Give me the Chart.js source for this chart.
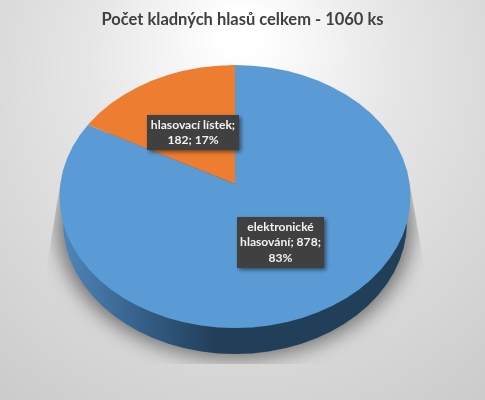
<!DOCTYPE html>
<html>
<head>
<meta charset="utf-8">
<title>Počet kladných hlasů celkem</title>
<script src="https://cdn.jsdelivr.net/npm/chart.js@4"></script>
<style>
  html, body { margin: 0; padding: 0; background: #ddd; }
  canvas { display: block; }
</style>
</head>
<body>
<canvas id="chart" width="485" height="400"></canvas>
<script>
const titleText = 'Počet kladných hlasů celkem - 1060 ks';
const categories = ['elektronické hlasování', 'hlasovací lístek'];
const votes = [878, 182];
const percents = [83, 17];
const sliceColors = ['#5b9bd5', '#ed7d31'];

// top face outline and the point where the slices meet (perspective moves it up)
const face = { x: 235, y: 196.5, rx: 175.5, ry: 131.5, apexY: 184 };
const labelBoxes = [
  { x: 237, y: 217, w: 87, h: 51 },
  { x: 147, y: 115, w: 92, h: 35 }
];

function wrap(ctx, text, maxWidth) {
  const lines = [];
  let line = '';
  text.split(' ').forEach(word => {
    const next = line ? line + ' ' + word : word;
    if (line && ctx.measureText(next).width > maxWidth) {
      lines.push(line);
      line = word;
    } else {
      line = next;
    }
  });
  lines.push(line);
  return lines;
}

const pie3d = {
  id: 'pie3d',
  beforeDraw(chart) {
    const ctx = chart.ctx;
    const bg = ctx.createRadialGradient(242, 30, 20, 242, 120, 400);
    bg.addColorStop(0, '#ffffff');
    bg.addColorStop(0.35, '#e6e6e6');
    bg.addColorStop(1, '#c8c8c8');
    ctx.fillStyle = bg;
    ctx.fillRect(0, 0, chart.width, chart.height);
  },
  beforeDatasetsDraw(chart) {
    const ctx = chart.ctx;

    // soft shadow below the pie, the ellipse itself stays off canvas
    ctx.save();
    ctx.beginPath();
    ctx.moveTo(60, 185);
    ctx.lineTo(410, 185);
    ctx.lineTo(424, 265);
    ctx.lineTo(424, 364);
    ctx.lineTo(47, 364);
    ctx.lineTo(47, 265);
    ctx.closePath();
    ctx.clip();
    ctx.shadowColor = 'rgba(0,0,0,0.5)';
    ctx.shadowBlur = 20;
    ctx.shadowOffsetX = 1000;
    ctx.fillStyle = '#000';
    ctx.beginPath();
    ctx.ellipse(face.x - 1000, 226, 177, 132, 0, 0, Math.PI * 2);
    ctx.fill();
    ctx.restore();

    // side wall
    const side = ctx.createLinearGradient(62, 0, 215, 0);
    side.addColorStop(0, '#4f86ba');
    side.addColorStop(0.55, '#335d85');
    side.addColorStop(1, '#223f59');
    ctx.fillStyle = side;
    ctx.beginPath();
    ctx.ellipse(face.x, 222, 172, 132, 0, 0, Math.PI * 2);
    ctx.fill();

    // top face: clip to the ellipse, slices fan out from the apex
    const arc = chart.getDatasetMeta(0).data[0];
    const grow = 1.2;
    ctx.save();
    ctx.beginPath();
    ctx.ellipse(face.x, face.y, face.rx, face.ry, 0, 0, Math.PI * 2);
    ctx.clip();
    ctx.translate(face.x, face.apexY);
    ctx.scale(grow * face.rx / arc.outerRadius, grow * 0.75 * face.rx / arc.outerRadius);
    ctx.translate(-arc.x, -arc.y);
  },
  afterDatasetsDraw(chart) {
    const ctx = chart.ctx;
    ctx.restore();

    ctx.font = 'bold 12.1px Lato';
    ctx.textAlign = 'center';
    ctx.textBaseline = 'middle';
    categories.forEach((name, i) => {
      const box = labelBoxes[i];
      const text = name + '; ' + votes[i] + '; ' + percents[i] + '%';
      const lines = wrap(ctx, text, box.w - 3);

      ctx.save();
      ctx.shadowColor = 'rgba(0,0,0,0.5)';
      ctx.shadowBlur = 4;
      ctx.shadowOffsetX = 2;
      ctx.shadowOffsetY = 2;
      ctx.fillStyle = '#404040';
      ctx.fillRect(box.x, box.y, box.w, box.h);
      ctx.restore();

      ctx.fillStyle = '#f2f2f2';
      const lineHeight = 15.3;
      const top = box.y + box.h / 2 - (lines.length - 1) * lineHeight / 2;
      lines.forEach((line, n) => ctx.fillText(line, box.x + box.w / 2, top + n * lineHeight));
    });
  }
};

new Chart(document.getElementById('chart'), {
  type: 'pie',
  data: {
    labels: categories,
    datasets: [{
      data: votes,
      backgroundColor: sliceColors,
      borderWidth: 0
    }]
  },
  options: {
    responsive: false,
    animation: false,
    devicePixelRatio: 1,
    plugins: {
      legend: { display: false },
      tooltip: { enabled: false },
      title: {
        display: true,
        text: titleText,
        color: '#404040',
        font: { family: 'Lato', size: 16.5, weight: 'bold' },
        padding: { top: 10, bottom: 10 }
      }
    }
  },
  plugins: [pie3d]
});
</script>
</body>
</html>
